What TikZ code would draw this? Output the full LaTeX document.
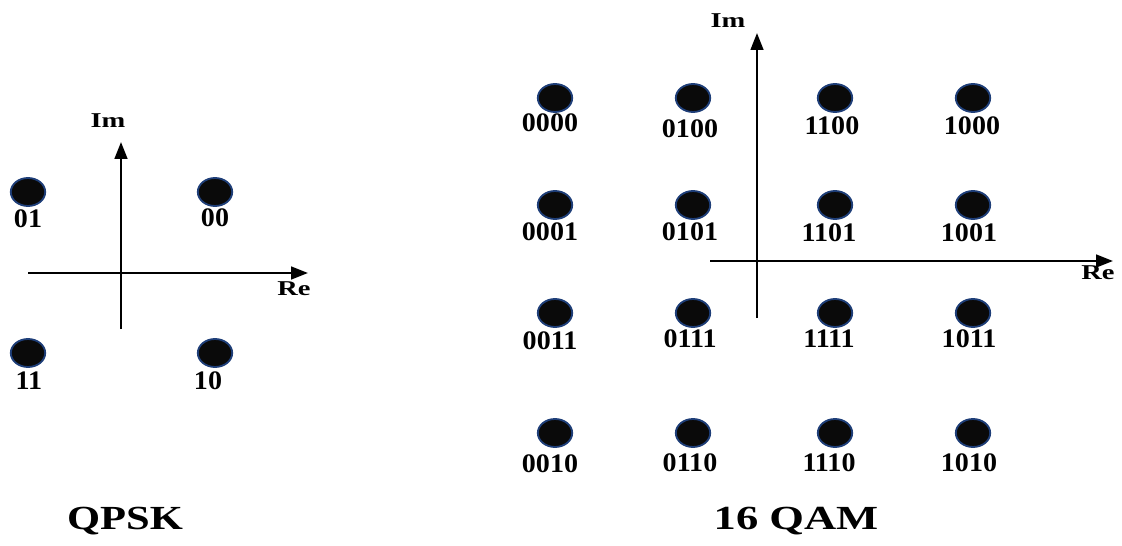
\documentclass[tikz,border=0pt]{standalone}
\usepackage{fontspec}
\setmainfont{Liberation Serif}
\usepackage{xcolor}
\usetikzlibrary{arrows.meta}
\usetikzlibrary{shapes.geometric}
\definecolor{rim}{RGB}{30, 62, 120}
\definecolor{ink}{RGB}{10, 10, 10}

\tikzset{
  dot/.style={ellipse, draw=rim, fill=ink, line width=1.3pt, minimum width=0.86cm, minimum height=0.7cm, inner sep=0pt},
  bits/.style={inner sep=0pt, font=\fontsize{19}{20}\selectfont\bfseries},
  axlabel/.style={inner sep=0pt, font=\fontsize{15}{16}\selectfont\bfseries},
  title/.style={inner sep=0pt, font=\fontsize{24}{26}\selectfont\bfseries},
  axis/.style={line width=1.6pt, -{Triangle[length=12pt,width=9pt]}}
}
\newcommand{\wide}[2]{\scalebox{#1}[1]{#2}}

\begin{document}
\begin{tikzpicture}[x=0.025cm, y=-0.025cm]
      \useasboundingbox (0, 0) rectangle (1122, 545);

      % QPSK
      \coordinate (qw) at (28, 273);
      \coordinate (qe) at (308, 273);
      \coordinate (qs) at (121, 329);
      \coordinate (qn) at (121, 142);
      \draw[axis] (qw) -- (qe);
      \draw[axis] (qs) -- (qn);
      \node[axlabel] (qim) at (108, 121) {\wide{1.35}{Im}};
      \node[axlabel] (qre) at (294, 289) {\wide{1.35}{Re}};
      \node[dot] (q01) at (28, 192) {};
      \node[dot] (q00) at (215, 192) {};
      \node[dot] (q11) at (28, 353) {};
      \node[dot] (q10) at (215, 353) {};
      \node[bits] (l01) at (28, 219) {\wide{1.05}{01}};
      \node[bits] (l00) at (215, 218) {\wide{1.05}{00}};
      \node[bits] (l11) at (29, 381) {\wide{1.05}{11}};
      \node[bits] (l10) at (208, 381) {\wide{1.05}{10}};
      \node[title] (tq) at (125, 521) {\wide{1.26}{QPSK}};

      % 16 QAM
      \coordinate (aw) at (710, 261);
      \coordinate (ae) at (1113, 261);
      \coordinate (as) at (757, 318);
      \coordinate (an) at (757, 33);
      \draw[axis] (aw) -- (ae);
      \draw[axis] (as) -- (an);
      \node[axlabel] (aim) at (728, 21) {\wide{1.35}{Im}};
      \node[axlabel] (are) at (1098, 273) {\wide{1.35}{Re}};

      \node[dot] (p0000) at (555, 98) {};
      \node[dot] (p0100) at (693, 98) {};
      \node[dot] (p1100) at (835, 98) {};
      \node[dot] (p1000) at (973, 98) {};
      \node[dot] (p0001) at (555, 205) {};
      \node[dot] (p0101) at (693, 205) {};
      \node[dot] (p1101) at (835, 205) {};
      \node[dot] (p1001) at (973, 205) {};
      \node[dot] (p0011) at (555, 313) {};
      \node[dot] (p0111) at (693, 313) {};
      \node[dot] (p1111) at (835, 313) {};
      \node[dot] (p1011) at (973, 313) {};
      \node[dot] (p0010) at (555, 433) {};
      \node[dot] (p0110) at (693, 433) {};
      \node[dot] (p1110) at (835, 433) {};
      \node[dot] (p1010) at (973, 433) {};

      \node[bits] (b0000) at (550, 123) {\wide{1.05}{0000}};
      \node[bits] (b0100) at (690, 129) {\wide{1.05}{0100}};
      \node[bits] (b1100) at (832, 126) {\wide{1.05}{1100}};
      \node[bits] (b1000) at (972, 126) {\wide{1.05}{1000}};
      \node[bits] (b0001) at (550, 232) {\wide{1.05}{0001}};
      \node[bits] (b0101) at (690, 232) {\wide{1.05}{0101}};
      \node[bits] (b1101) at (829, 233) {\wide{1.05}{1101}};
      \node[bits] (b1001) at (969, 233) {\wide{1.05}{1001}};
      \node[bits] (b0011) at (550, 341) {\wide{1.05}{0011}};
      \node[bits] (b0111) at (690, 339) {\wide{1.05}{0111}};
      \node[bits] (b1111) at (829, 339) {\wide{1.05}{1111}};
      \node[bits] (b1011) at (969, 339) {\wide{1.05}{1011}};
      \node[bits] (b0010) at (550, 464) {\wide{1.05}{0010}};
      \node[bits] (b0110) at (690, 463) {\wide{1.05}{0110}};
      \node[bits] (b1110) at (829, 463) {\wide{1.05}{1110}};
      \node[bits] (b1010) at (969, 463) {\wide{1.05}{1010}};
      \node[title] (ta) at (796, 521) {\wide{1.32}{16 QAM}};
    \end{tikzpicture}
\end{document}
